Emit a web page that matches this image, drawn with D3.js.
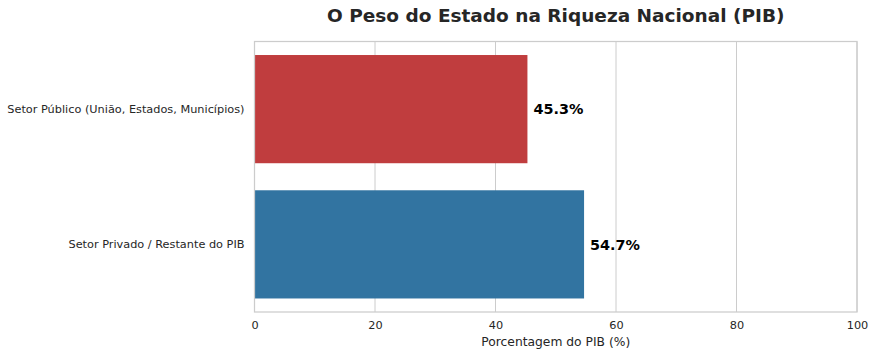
<!DOCTYPE html>
<html><head><meta charset="utf-8">
<script src="https://cdn.jsdelivr.net/npm/d3@7/dist/d3.min.js"></script>
<style>body{margin:0;background:#fff}svg{display:block}text{font-family:"DejaVu Sans",sans-serif}</style>
</head><body>
<svg id="c" width="875" height="356"></svg>
<script>
const categories = ["Setor Público (União, Estados, Municípios)", "Setor Privado / Restante do PIB"];
const values = [45.3, 54.7];
const colors = ["#c03d3e", "#3274a1"];
const xTicks = [0, 20, 40, 60, 80, 100];
const title = "O Peso do Estado na Riqueza Nacional (PIB)";
const xLabel = "Porcentagem do PIB (%)";

const svg = d3.select("#c");
const m = {l: 254.5, t: 41.5, r: 857, b: 312};
const x = d3.scaleLinear().domain([0, 100]).range([m.l, m.r]);
const y = d3.scaleBand().domain(categories).range([m.t, m.b]).paddingInner(0.2).paddingOuter(0.1);

// grid
svg.append("g").selectAll("line").data(xTicks).join("line")
  .attr("x1", d => x(d)).attr("x2", d => x(d)).attr("y1", m.t).attr("y2", m.b)
  .attr("stroke", "#cccccc").attr("stroke-width", 1);

// bars
svg.append("g").selectAll("rect").data(values).join("rect")
  .attr("x", x(0)).attr("y", (d, i) => y(categories[i]))
  .attr("width", d => x(d) - x(0)).attr("height", y.bandwidth())
  .attr("fill", (d, i) => colors[i]);

// frame
svg.append("rect").attr("x", m.l).attr("y", m.t).attr("width", m.r - m.l).attr("height", m.b - m.t)
  .attr("fill", "none").attr("stroke", "#cccccc").attr("stroke-width", 1.25);

// value labels
svg.append("g").selectAll("text").data(values).join("text")
  .attr("x", d => x(d) + 6).attr("y", (d, i) => y(categories[i]) + y.bandwidth() / 2)
  .attr("dy", "0.36em").attr("font-size", 14.4).attr("font-weight", "bold").attr("fill", "#000")
  .text(d => d.toFixed(1) + "%");

// x axis
const xa = d3.axisBottom(x).tickValues(xTicks).tickSize(0).tickPadding(9).tickFormat(d3.format("d"));
const gx = svg.append("g").attr("transform", `translate(0,${m.b})`).call(xa);
gx.select(".domain").remove();
gx.selectAll("text").attr("font-size", 11.3).attr("fill", "#262626").attr("font-family", "DejaVu Sans");

// y axis
const ya = d3.axisLeft(y).tickSize(0).tickPadding(10);
const gy = svg.append("g").attr("transform", `translate(${m.l},0)`).call(ya);
gy.select(".domain").remove();
gy.selectAll("text").attr("font-size", 11.3).attr("fill", "#262626").attr("font-family", "DejaVu Sans");

// axis label
svg.append("text").attr("x", (m.l + m.r) / 2).attr("y", 346).attr("text-anchor", "middle")
  .attr("font-size", 12.3).attr("fill", "#262626").text(xLabel);

// title
svg.append("text").attr("x", (m.l + m.r) / 2).attr("y", 22).attr("text-anchor", "middle")
  .attr("font-size", 18.5).attr("font-weight", "bold").attr("fill", "#262626").text(title);
</script>
</body></html>
